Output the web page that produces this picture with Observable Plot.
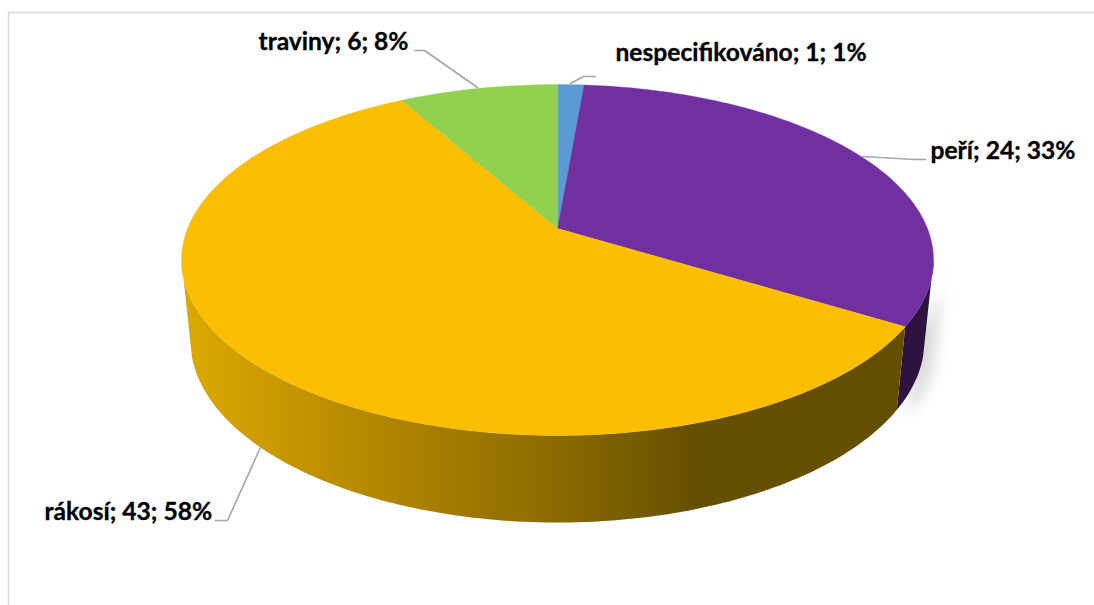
<!DOCTYPE html>
<html>
<head>
<meta charset="utf-8">
<script src="https://cdn.jsdelivr.net/npm/d3@7"></script>
<script src="https://cdn.jsdelivr.net/npm/@observablehq/plot@0.6"></script>
<style>
  html, body { margin: 0; padding: 0; background: #fff; overflow: hidden; }
  svg { display: block; }
</style>
</head>
<body>
<div id="chart"></div>
<script>
// Composition of the material, clockwise from twelve o'clock.
const categories = ["nespecifikováno", "peří", "rákosí", "traviny"];
const counts = [1, 24, 43, 6];
const percents = [1, 33, 58, 8];
const colors = ["#5b9bd5", "#7030a0", "#fbbe00", "#92d050"];

// Where each label starts (left edge, vertical middle).
const labelX = [615, 930, 44, 258];
const labelY = [53, 151, 512, 42];

// Leader polylines, one per category.
const leaderX = [[570, 583, 595], [862, 914, 925], [260, 227, 215], [477, 424, 414]];
const leaderY = [[83, 76, 76], [156, 159, 159], [447, 520, 520], [87, 50, 50]];

const width = 1094;
const height = 605;

// Perspective of the disc: the far side shrinks, the near side grows.
const tilt = 0.1795;
const topRim = {cx: 557, cy: 228, a: 369.9, b: 169.8};
const lowRim = {cx: 557, cy: 307.5, a: 361, b: 176};
const onRim = (rim, t) => {
  const u = Math.sin(t), v = Math.cos(t), w = 1 + tilt * v;
  return [rim.cx + rim.a * u / w, rim.cy - rim.b * v / w];
};

const arcs = d3.pie().sort(null).value((d) => d)(counts);
const degree = Math.PI / 180;
const steps = (t0, t1) => {
  const n = Math.max(2, Math.ceil((t1 - t0) / degree));
  return d3.range(n + 1).map((i) => t0 + (t1 - t0) * i / n);
};

// Top faces: a wedge from the apex round the rim.
const topFaces = categories.flatMap((category, i) => [
  {category, x: topRim.cx, y: topRim.cy},
  ...steps(arcs[i].startAngle, arcs[i].endAngle).map((t) => {
    const [x, y] = onRim(topRim, t);
    return {category, x, y};
  })
]);

// Visible angles of the wall on each rim: the silhouette joins the widest
// point of the top rim to a point just nearer the viewer on the lower rim.
const topSpan = [100.3 * degree, 259.7 * degree];
const lowSpan = [105 * degree, 255 * degree];

const wall = (i) => {
  const clip = ([a, b]) => [Math.max(arcs[i].startAngle, a), Math.min(arcs[i].endAngle, b)];
  const [t0, t1] = clip(topSpan);
  const [l0, l1] = clip(lowSpan);
  return [
    ...steps(t0, t1).map((t) => onRim(topRim, t)),
    ...steps(l0, l1).reverse().map((t) => onRim(lowRim, t))
  ].map(([x, y]) => ({x, y}));
};

const leaders = categories.flatMap((category, i) =>
  leaderX[i].map((x, j) => ({category, x, y: leaderY[i][j]}))
);

const labels = categories.map((category, i) => ({
  text: `${category}; ${counts[i]}; ${percents[i]}%`,
  x: labelX[i],
  y: labelY[i]
}));

// Gradient and blur used by the disc wall and its soft shadow.
const defs = () => {
  const ns = "http://www.w3.org/2000/svg";
  const root = document.createElementNS(ns, "defs");
  const gradient = document.createElementNS(ns, "linearGradient");
  gradient.setAttribute("id", "rim-shade");
  gradient.setAttribute("x1", "0");
  gradient.setAttribute("x2", "1");
  gradient.setAttribute("y1", "0");
  gradient.setAttribute("y2", "0");
  [[0, "#dcaa00"], [0.108, "#cc9c00"], [0.267, "#b38700"], [0.52, "#8a6a00"], [0.71, "#654f00"], [1, "#644e00"]]
    .forEach(([offset, color]) => {
      const stop = document.createElementNS(ns, "stop");
      stop.setAttribute("offset", offset);
      stop.setAttribute("stop-color", color);
      gradient.appendChild(stop);
    });
  const filter = document.createElementNS(ns, "filter");
  filter.setAttribute("id", "soft");
  filter.setAttribute("x", "-50%");
  filter.setAttribute("y", "-50%");
  filter.setAttribute("width", "200%");
  filter.setAttribute("height", "200%");
  const blur = document.createElementNS(ns, "feGaussianBlur");
  blur.setAttribute("stdDeviation", "7");
  filter.appendChild(blur);
  root.append(gradient, filter);
  return root;
};

const softened = (index, scales, values, dimensions, context, next) => {
  const g = next(index, scales, values, dimensions, context);
  g.setAttribute("filter", "url(#soft)");
  return g;
};

const chart = Plot.plot({
  width,
  height,
  margin: 0,
  style: {background: "#fff"},
  x: {domain: [0, width], range: [0, width], axis: null},
  y: {domain: [0, height], range: [0, height], axis: null},
  color: {domain: categories, range: colors},
  marks: [
    defs,
    // Chart frame
    Plot.ruleX([8], {y1: 12, y2: height, stroke: "#d9d9d9", strokeWidth: 1.5}),
    Plot.ruleY([12], {x1: 8, x2: width, stroke: "#d9d9d9", strokeWidth: 1.5}),
    // Shadow at the right of the wall
    Plot.line(wall(1), {
      x: (d) => d.x + 11, y: (d) => d.y + 5,
      fill: "#000", fillOpacity: 0.15, stroke: "none", render: softened
    }),
    // Walls
    Plot.line(wall(1), {x: "x", y: "y", fill: "#2c1340", stroke: "none"}),
    Plot.line(wall(2), {x: "x", y: "y", fill: "url(#rim-shade)", stroke: "none"}),
    // Top faces
    Plot.line(topFaces, {x: "x", y: "y", z: "category", fill: "category", stroke: "category", strokeWidth: 0.4}),
    // Leaders and labels
    Plot.line(leaders, {x: "x", y: "y", z: "category", stroke: "#a6a6a6", strokeWidth: 1.6}),
    Plot.text(labels, {
      x: "x", y: "y", text: "text", textAnchor: "start", lineAnchor: "middle",
      fontFamily: "Lato", fontWeight: 700, fontSize: 24.6, fill: "#000", stroke: "#000", strokeWidth: 0.35
    })
  ]
});
document.getElementById("chart").appendChild(chart);
</script>
</body>
</html>
